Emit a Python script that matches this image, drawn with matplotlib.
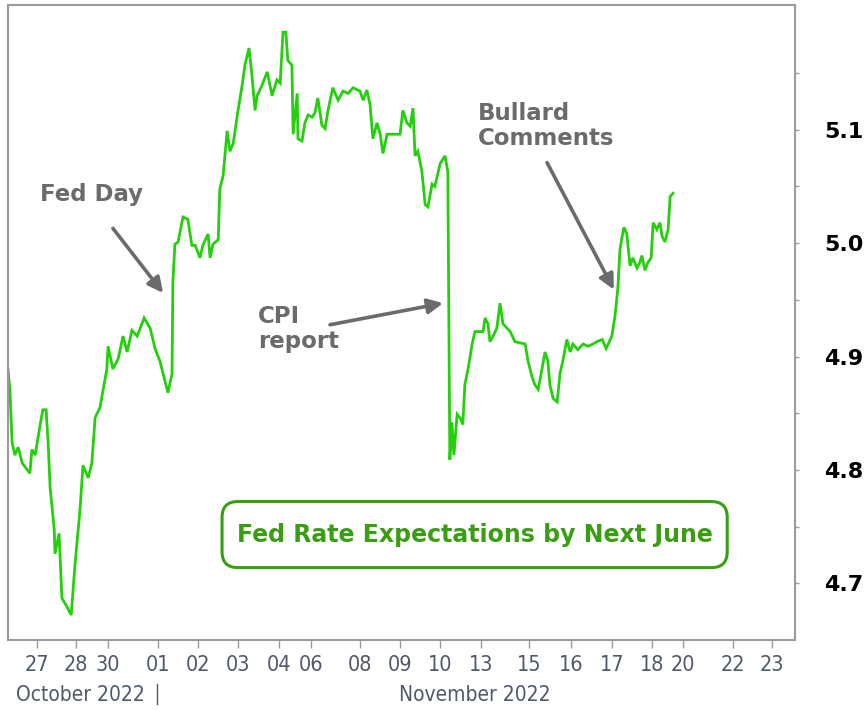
import matplotlib
matplotlib.use("Agg")
import matplotlib.pyplot as plt
from matplotlib.patches import FancyBboxPatch
import numpy as np

# session-day index (trading days since chart start) and implied rate
t = [0, 0.05, 0.10, 0.17, 0.25, 0.35, 0.54, 0.59, 0.67, 0.79, 0.86, 0.94, 0.99, 1.04, 1.14, 1.16, 1.26,
     1.33, 1.46, 1.56, 1.65, 1.78, 1.85, 1.98, 2.07, 2.15, 2.27, 2.44, 2.47, 2.59, 2.72, 2.84, 2.94,
     3.06, 3.19, 3.36, 3.51, 3.63, 3.75, 3.88, 3.95, 4.05, 4.07, 4.12, 4.20, 4.32, 4.44, 4.54, 4.62,
     4.74, 4.81, 4.94, 4.99, 5.06, 5.19, 5.23, 5.31, 5.41, 5.48, 5.56, 5.68, 5.78, 5.85, 5.95, 6.02,
     6.10, 6.15, 6.27, 6.40, 6.52, 6.64, 6.72, 6.79, 6.86, 6.91, 7.01, 7.04, 7.14, 7.16, 7.26, 7.33,
     7.41, 7.51, 7.58, 7.65, 7.75, 7.83, 7.90, 8.02, 8.15, 8.27, 8.40, 8.52, 8.69, 8.77, 8.86, 8.94,
     9.01, 9.11, 9.19, 9.26, 9.36, 9.48, 9.68, 9.75, 9.85, 9.93, 10.00, 10.05, 10.12, 10.22, 10.30,
     10.37, 10.47, 10.54, 10.67, 10.79, 10.86, 10.91, 10.96, 11.01, 11.09, 11.16, 11.23, 11.28, 11.36,
     11.46, 11.53, 11.60, 11.73, 11.78, 11.85, 11.90, 11.98, 12.07, 12.15, 12.22, 12.32, 12.40, 12.52,
     12.77, 12.84, 12.94, 13.01, 13.09, 13.16, 13.26, 13.33, 13.38, 13.46, 13.56, 13.63, 13.70, 13.80,
     13.88, 13.95, 14.07, 14.20, 14.32, 14.44, 14.54, 14.67, 14.77, 14.91, 14.99, 15.06, 15.11, 15.16,
     15.21, 15.28, 15.36, 15.43, 15.53, 15.60, 15.65, 15.73, 15.80, 15.88, 15.93, 16.02, 16.10, 16.15,
     16.22, 16.30, 16.35, 16.42]
rate = [4.889, 4.868, 4.824, 4.813, 4.820, 4.806, 4.797, 4.818, 4.813, 4.839, 4.853, 4.853, 4.824, 4.784,
        4.748, 4.726, 4.744, 4.687, 4.679, 4.672, 4.715, 4.766, 4.804, 4.793, 4.806, 4.846, 4.855, 4.889,
        4.909, 4.889, 4.898, 4.918, 4.904, 4.923, 4.918, 4.934, 4.925, 4.907, 4.896, 4.878, 4.868, 4.885,
        4.965, 4.999, 5.001, 5.023, 5.021, 4.998, 4.998, 4.987, 4.998, 5.008, 4.987, 4.999, 5.003, 5.048,
        5.059, 5.099, 5.081, 5.088, 5.117, 5.139, 5.157, 5.172, 5.149, 5.117, 5.130, 5.139, 5.151, 5.130,
        5.144, 5.141, 5.186, 5.186, 5.161, 5.157, 5.096, 5.132, 5.092, 5.090, 5.106, 5.113, 5.111, 5.115,
        5.128, 5.104, 5.101, 5.117, 5.137, 5.126, 5.134, 5.132, 5.137, 5.134, 5.126, 5.135, 5.122, 5.092,
        5.106, 5.096, 5.079, 5.096, 5.096, 5.096, 5.117, 5.106, 5.103, 5.119, 5.077, 5.081, 5.063, 5.034,
        5.032, 5.052, 5.050, 5.070, 5.077, 5.063, 4.809, 4.842, 4.813, 4.849, 4.846, 4.840, 4.875, 4.889,
        4.911, 4.922, 4.922, 4.922, 4.934, 4.929, 4.913, 4.918, 4.925, 4.947, 4.929, 4.925, 4.922, 4.913,
        4.911, 4.896, 4.882, 4.875, 4.871, 4.884, 4.904, 4.896, 4.875, 4.863, 4.860, 4.885, 4.896, 4.915,
        4.904, 4.911, 4.906, 4.911, 4.909, 4.911, 4.913, 4.915, 4.907, 4.918, 4.936, 4.961, 4.994, 5.005,
        5.014, 5.008, 4.980, 4.987, 4.978, 4.983, 4.989, 4.976, 4.983, 4.987, 5.018, 5.012, 5.018, 5.006,
        5.001, 5.012, 5.041, 5.044]

day_ticks = [0.72, 1.68, 2.47, 3.70, 4.69, 5.68, 6.69, 7.48, 8.69, 9.68, 10.67, 11.68, 12.86, 13.90,
             14.91, 15.90, 16.67, 17.90, 18.86]
day_labels = ["27", "28", "30", "01", "02", "03", "04", "06", "08", "09", "10", "13", "15", "16",
              "17", "18", "20", "22", "23"]

green = "#22d10a"
box_green = "#3a9e12"
grey = "#6b6b6b"
axis_txt = "#4e5a6a"

fig = plt.figure(figsize=(8.64, 7.10), dpi=100)
ax = fig.add_axes([0.0093, 0.0986, 0.9107, 0.8944])

ax.plot(t, rate, color=green, lw=2.0, solid_joinstyle="miter")
ax.set_xlim(0, 19.43)
ax.set_ylim(4.650, 5.210)

for s in ax.spines.values():
    s.set_color("#9a9a9a")
    s.set_linewidth(1.5)

# right-hand value axis
ax.yaxis.tick_right()
ax.set_yticks(np.arange(4.70, 5.16, 0.05))
ax.set_yticklabels(["4.7", "", "4.8", "", "4.9", "", "5.0", "", "5.1", ""])
ax.tick_params(axis="y", length=3, width=1, color="#9a9a9a", pad=18, labelsize=16)
for lab in ax.get_yticklabels():
    lab.set_fontweight("bold")
    lab.set_color("black")

ax.set_xticks(day_ticks)
ax.set_xticklabels(day_labels, fontstretch="condensed")
ax.tick_params(axis="x", length=6, width=1, color="#9a9a9a", pad=5, labelsize=15.5, labelcolor=axis_txt)

# month labels under the day ticks
fig.text(80 / 864, 0.021, "October 2022", ha="center", va="center",
         fontsize=15, color=axis_txt, fontstretch="condensed")
fig.text(475 / 864, 0.021, "November 2022", ha="center", va="center",
         fontsize=15, color=axis_txt, fontstretch="condensed")
fig.add_artist(plt.Line2D([157 / 864, 157 / 864], [0.008, 0.037], color=axis_txt, lw=1))

arrow = dict(arrowstyle="-|>,head_length=0.9,head_width=0.45", color=grey, lw=2.6,
             shrinkA=0, shrinkB=0)
txt = dict(color=grey, fontsize=16.5, fontweight="bold")

ax.text(2.07, 5.043, "Fed Day", ha="center", va="center", **txt)
ax.annotate("", xy=(3.83, 4.956), xytext=(2.59, 5.013), arrowprops=arrow)

ax.text(6.17, 4.924, "CPI\nreport", ha="left", va="center", linespacing=1.1, **txt)
ax.annotate("", xy=(10.74, 4.947), xytext=(7.95, 4.928), arrowprops=arrow)

ax.text(11.60, 5.103, "Bullard\nComments", ha="left", va="center", linespacing=1.1, **txt)
ax.annotate("", xy=(14.96, 4.959), xytext=(13.31, 5.071), arrowprops=arrow)

# title box (drawn in axes fraction so the corners stay round)
box = FancyBboxPatch((0.272, 0.114), 0.642, 0.104, boxstyle="round,pad=0,rounding_size=0.02",
                     mutation_aspect=787 / 635, transform=ax.transAxes,
                     fc="white", ec=box_green, lw=2.2, zorder=3)
ax.add_patch(box)
ax.text(0.593, 0.166, "Fed Rate Expectations by Next June", transform=ax.transAxes,
        ha="center", va="center", color=box_green, fontsize=17, fontweight="bold", zorder=4)

fig.savefig("out.png", dpi=100)
